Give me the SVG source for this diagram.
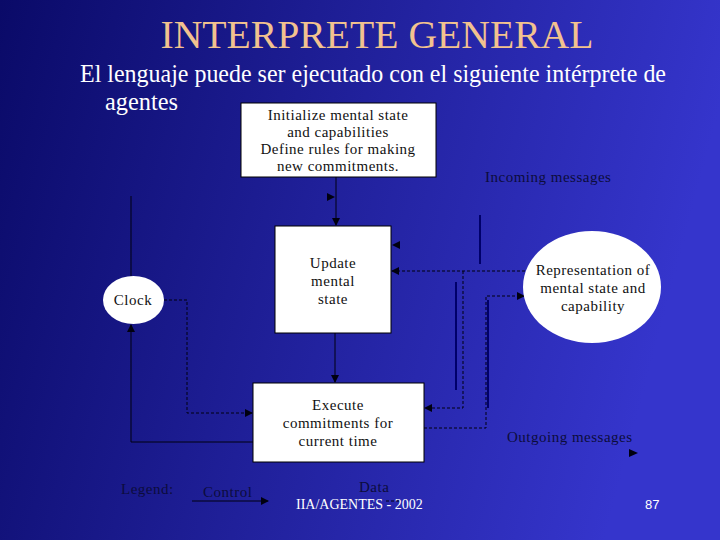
<svg xmlns="http://www.w3.org/2000/svg" width="720" height="540" viewBox="0 0 720 540">
<defs>
<linearGradient id="bg" x1="0" y1="0" x2="1" y2="0.2">
<stop offset="0" stop-color="#0a0a68"/>
<stop offset="0.5" stop-color="#20209a"/>
<stop offset="1" stop-color="#3535cc"/>
</linearGradient>
<marker id="ah" markerWidth="8" markerHeight="8" refX="7" refY="4" orient="auto" markerUnits="userSpaceOnUse">
<path d="M0,0 L8,4 L0,8 Z" fill="#000010"/>
</marker>
<style>
.serif{font-family:"Liberation Serif","Times New Roman",serif}
.box{fill:#fff;stroke:#000;stroke-width:1}
.t{font-family:"Liberation Serif",serif;font-size:15px;letter-spacing:0.5px;fill:#111;text-anchor:middle}
.lbl{font-family:"Liberation Serif",serif;font-size:15px;letter-spacing:0.5px;fill:#0c0c3c}
.s{stroke:#000010;stroke-width:1;fill:none}
.d{stroke:#000010;stroke-width:1;fill:none;stroke-dasharray:3,2}
.bar{stroke:#00006a;stroke-width:2;fill:none}
.tri{fill:#000010}
</style>
</defs>
<rect width="720" height="540" fill="url(#bg)"/>
<text class="serif" x="377" y="48" font-size="40" fill="#f2c28f" text-anchor="middle" textLength="433" lengthAdjust="spacingAndGlyphs">INTERPRETE GENERAL</text>
<text class="serif" x="80" y="82" font-size="25" fill="#fff" textLength="586" lengthAdjust="spacingAndGlyphs">El lenguaje puede ser ejecutado con el siguiente intérprete de</text>
<text class="serif" x="105" y="110" font-size="25" fill="#fff" textLength="73" lengthAdjust="spacingAndGlyphs">agentes</text>

<g id="connectors">
<line class="s" x1="336" y1="177" x2="336" y2="225" marker-end="url(#ah)"/>
<path class="tri" d="M327,193 L335,197 L327,201 Z"/>
<line class="s" x1="335" y1="333" x2="335" y2="382" marker-end="url(#ah)"/>
<line class="s" x1="131" y1="196" x2="131" y2="276"/>
<path class="s" d="M253,442 L131,442 L131,325" marker-end="url(#ah)"/>
<path class="d" d="M164,300 L187,300 L187,413 L252,413" marker-end="url(#ah)"/>
<path class="tri" d="M400,241 L392,245 L400,249 Z"/>
<path class="d" d="M525,271 L392,271" marker-end="url(#ah)"/>
<path class="d" d="M463,271 L463,408 L425,408" marker-end="url(#ah)"/>
<path class="d" d="M424,428 L486,428 L486,296 L524,296" marker-end="url(#ah)"/>
<line class="bar" x1="480" y1="215" x2="480" y2="264"/>
<line class="bar" x1="456" y1="282" x2="456" y2="390"/>
<line class="bar" x1="488" y1="300" x2="488" y2="408"/>
<path class="tri" d="M629,449 L638,453 L629,457 Z"/>
<line class="s" x1="192" y1="501" x2="268" y2="501" marker-end="url(#ah)"/>
<line class="d" x1="386" y1="501" x2="400" y2="501"/>
</g>

<g id="init">
<rect class="box" x="241" y="103" width="195" height="74"/>
<text class="t" x="338" y="120">Initialize mental state</text>
<text class="t" x="338" y="137">and capabilities</text>
<text class="t" x="338" y="154">Define rules for making</text>
<text class="t" x="338" y="171">new commitments.</text>
</g>
<g id="update">
<rect class="box" x="275" y="226" width="116" height="107"/>
<text class="t" x="333" y="268">Update</text>
<text class="t" x="333" y="286">mental</text>
<text class="t" x="333" y="304">state</text>
</g>
<g id="execute">
<rect class="box" x="253" y="383" width="171" height="79"/>
<text class="t" x="338" y="410">Execute</text>
<text class="t" x="338" y="428">commitments for</text>
<text class="t" x="338" y="446">current time</text>
</g>
<g id="clock">
<ellipse cx="133.5" cy="300" rx="30.5" ry="24" fill="#fff"/>
<text class="t" x="133" y="305">Clock</text>
</g>
<g id="representation">
<ellipse cx="592" cy="287" rx="69" ry="56" fill="#fff"/>
<text class="t" x="593" y="275">Representation of</text>
<text class="t" x="593" y="293">mental state and</text>
<text class="t" x="593" y="311">capability</text>
</g>
<g id="labels">
<text class="lbl" x="485" y="182">Incoming messages</text>
<text class="lbl" x="507" y="442">Outgoing messages</text>
<text class="lbl" x="121" y="494">Legend:</text>
<text class="lbl" x="203" y="497">Control</text>
<text class="lbl" x="359" y="492">Data</text>
</g>
<text class="serif" x="296" y="509" font-size="14" fill="#fff">IIA/AGENTES  - 2002</text>
<text x="645" y="509" font-family="'Liberation Sans',sans-serif" font-size="13" fill="#fff">87</text>
</svg>
